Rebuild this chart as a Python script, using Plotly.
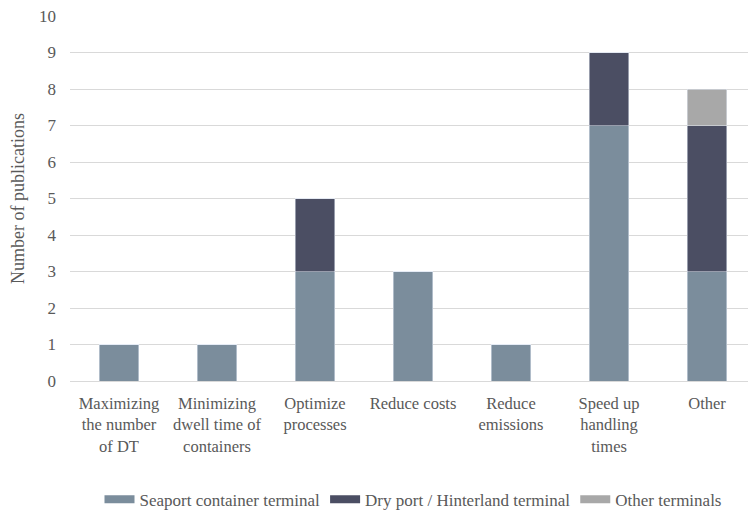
import plotly.graph_objects as go

categories = ["Maximizing<br>the number<br>of DT", "Minimizing<br>dwell time of<br>containers",
              "Optimize<br>processes", "Reduce costs", "Reduce<br>emissions",
              "Speed up<br>handling<br>times", "Other"]
series_names = ["Seaport container terminal", "Dry port / Hinterland terminal", "Other terminals"]
seaport = [1, 1, 3, 3, 1, 7, 3]
dryport = [0, 0, 2, 0, 0, 2, 4]
other_terminals = [0, 0, 0, 0, 0, 0, 1]
colors = ["#7b8d9c", "#4b4e63", "#a8a8a8"]

font = "Liberation Serif"
grey = "#595959"
fig = go.Figure()
for name, vals, col in zip(series_names, [seaport, dryport, other_terminals], colors):
    fig.add_bar(x=categories, y=vals, name=name, marker_color=col, showlegend=False)
# legend entries drawn as wide rectangles
for name, col in zip(series_names, colors):
    fig.add_scatter(x=[None], y=[None], mode="lines", name=name,
                    line=dict(color=col, width=8))
fig.update_layout(
    barmode="stack", bargap=0.6,
    width=748, height=502,
    margin=dict(l=62, r=0, t=8, b=129, autoexpand=False),
    plot_bgcolor="white", paper_bgcolor="white",
    font=dict(family=font, size=16.5, color=grey),
    legend=dict(orientation="h", x=0.5, xanchor="center", y=-0.325, yanchor="middle",
                font=dict(family=font, size=17, color=grey), traceorder="normal",
                entrywidth=0),
    yaxis=dict(range=[0, 10], dtick=1, gridcolor="#d9d9d9", gridwidth=1,
               title=dict(text="Number of publications", standoff=12,
                          font=dict(family=font, size=18, color=grey)),
               tickfont=dict(family=font, size=17, color=grey), ticklabeloverflow="allow",
               zeroline=False, ticks="", ticklabelstandoff=13, automargin=False),
    xaxis=dict(showline=True, linecolor="#d9d9d9", ticks="", automargin=False,
               tickfont=dict(family=font, size=16.5, color=grey), ticklabelstandoff=7),
)
fig.write_html("out.html")
